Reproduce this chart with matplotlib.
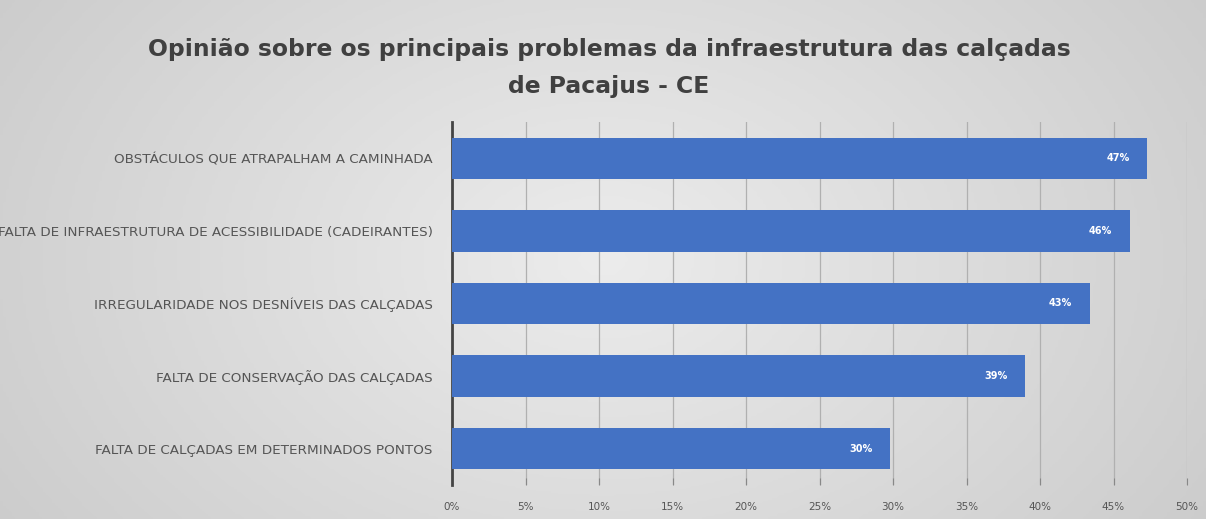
import numpy as np
import matplotlib
matplotlib.use("Agg")
import matplotlib.pyplot as plt
from matplotlib.colors import LinearSegmentedColormap

categories = [
    "OBSTÁCULOS QUE ATRAPALHAM A CAMINHADA",
    "FALTA DE INFRAESTRUTURA DE ACESSIBILIDADE (CADEIRANTES)",
    "IRREGULARIDADE NOS DESNÍVEIS DAS CALÇADAS",
    "FALTA DE CONSERVAÇÃO DAS CALÇADAS",
    "FALTA DE CALÇADAS EM DETERMINADOS PONTOS",
]
values = [47.3, 46.1, 43.4, 39.0, 29.8]
value_labels = ["47%", "46%", "43%", "39%", "30%"]
x_ticks = [0, 5, 10, 15, 20, 25, 30, 35, 40, 45, 50]
x_tick_labels = ["0%", "5%", "10%", "15%", "20%", "25%", "30%", "35%", "40%", "45%", "50%"]
title = "Opinião sobre os principais problemas da infraestrutura das calçadas\nde Pacajus - CE"

fig = plt.figure(figsize=(12.06, 5.19), dpi=100)

# background gradient
bg = fig.add_axes([0, 0, 1, 1], zorder=-10)
xx = np.linspace(-1, 1, 400)
yy = np.linspace(-1, 1, 200)
X, Y = np.meshgrid(xx, yy)
grad = np.sqrt(X**2 * 0.8 + Y**2 * 0.3)
cmap = LinearSegmentedColormap.from_list("g", ["#ececec", "#cbcbcb"])
bg.imshow(grad, cmap=cmap, aspect="auto", extent=[0, 1, 0, 1], vmin=0, vmax=1.1)
bg.set_axis_off()

ax = fig.add_axes([452/1206, 1-485/519, (1187-452)/1206, (485-122)/519])
ax.set_facecolor("none")
y = np.arange(len(categories))
ax.barh(y, values, height=0.57, color="#4472C4", zorder=3)
ax.set_ylim(len(categories) - 0.5, -0.5)
ax.set_xlim(0, 50)
ax.set_yticks(y)
ax.set_yticklabels(categories, fontsize=9.7, color="#555555")
ax.set_xticks(x_ticks)
ax.set_xticklabels(x_tick_labels, fontsize=7.5, color="#555555")
ax.tick_params(axis="y", length=0, pad=14)
ax.tick_params(axis="x", length=5, color="#888888", pad=12, direction="in")
ax.grid(axis="x", color="#b0b0b0", linewidth=0.9, zorder=0)
for s in ["top", "right", "bottom"]:
    ax.spines[s].set_visible(False)
ax.spines["left"].set_color("#444444")
ax.spines["left"].set_linewidth(2)

for yi, v, lab in zip(y, values, value_labels):
    ax.text(v - 1.2, yi, lab, ha="right", va="center", color="white",
            fontsize=7, fontweight="bold", zorder=4)

fig.text(0.505, 0.869, title, ha="center", va="center", fontsize=16.9,
         fontweight="bold", color="#404040", linespacing=1.75)

fig.savefig("out.png", dpi=100)
